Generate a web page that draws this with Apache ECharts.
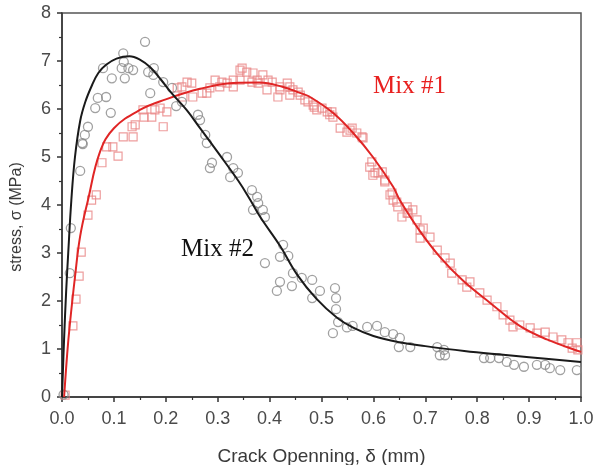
<!DOCTYPE html>
<html><head><meta charset="utf-8">
<script src="https://cdn.jsdelivr.net/npm/echarts@6/dist/echarts.min.js"></script>
<style>html,body{margin:0;padding:0;background:#fff}#c{width:597px;height:465px}</style>
</head><body><div id="c"></div>
<script>
var xTicks = [0.0,0.1,0.2,0.3,0.4,0.5,0.6,0.7,0.8,0.9,1.0];
var yTicks = [0,1,2,3,4,5,6,7,8];

var mix2Fit = [[0,0],[0.004,1.2],[0.008,2.2],[0.012,3.0],[0.018,4.1],[0.025,5.0],[0.035,5.75],[0.045,6.15],[0.058,6.5],[0.07,6.75],[0.085,6.92],[0.105,7.05],[0.13,7.1],[0.15,7.03],[0.17,6.87],[0.19,6.62],[0.212,6.32],[0.24,5.98],[0.266,5.6],[0.3,5.1],[0.34,4.5],[0.362,4.12],[0.382,3.75],[0.42,3.15],[0.453,2.55],[0.49,2.05],[0.53,1.65],[0.56,1.45],[0.6,1.27],[0.65,1.14],[0.7,1.06],[0.775,0.96],[0.85,0.88],[0.9,0.83],[1.0,0.73]];

var mix1Fit = [[0.004,0],[0.01,0.9],[0.015,1.5],[0.025,2.5],[0.035,3.35],[0.05,4.1],[0.073,5.1],[0.1,5.6],[0.15,5.98],[0.2,6.2],[0.266,6.42],[0.33,6.54],[0.38,6.55],[0.426,6.46],[0.46,6.33],[0.478,6.25],[0.522,5.92],[0.561,5.5],[0.599,5.0],[0.638,4.38],[0.651,4.1],[0.69,3.45],[0.728,2.92],[0.773,2.42],[0.825,1.96],[0.882,1.48],[0.934,1.2],[1.0,0.94]];

var mix2Pts = [[0.003,0.05],[0.015,2.58],[0.017,3.52],[0.035,4.71],[0.039,5.29],[0.04,5.27],[0.044,5.46],[0.05,5.63],[0.064,6.02],[0.069,6.23],[0.085,6.25],[0.079,6.85],[0.096,6.64],[0.094,5.92],[0.118,7.16],[0.119,6.98],[0.121,6.64],[0.115,6.85],[0.128,6.85],[0.137,6.81],[0.16,7.40],[0.177,6.85],[0.166,6.77],[0.176,6.71],[0.17,6.33],[0.195,6.56],[0.212,6.44],[0.22,6.06],[0.231,6.15],[0.262,5.88],[0.266,5.77],[0.276,5.46],[0.279,5.29],[0.289,4.88],[0.285,4.77],[0.318,5.0],[0.324,4.58],[0.33,4.77],[0.339,4.67],[0.366,4.31],[0.376,4.17],[0.378,4.04],[0.368,3.9],[0.387,3.9],[0.391,3.75],[0.391,2.79],[0.426,3.17],[0.436,2.94],[0.42,2.92],[0.445,2.58],[0.42,2.40],[0.414,2.21],[0.443,2.31],[0.462,2.48],[0.482,2.44],[0.497,2.21],[0.482,2.06],[0.526,2.27],[0.528,2.06],[0.528,1.83],[0.532,1.56],[0.549,1.45],[0.56,1.48],[0.522,1.33],[0.588,1.46],[0.607,1.48],[0.622,1.35],[0.638,1.31],[0.651,1.23],[0.649,1.04],[0.671,1.04],[0.723,1.04],[0.736,0.98],[0.728,0.87],[0.738,0.87],[0.813,0.81],[0.825,0.81],[0.842,0.81],[0.857,0.73],[0.871,0.67],[0.89,0.63],[0.915,0.67],[0.931,0.67],[0.94,0.60],[0.96,0.56],[0.992,0.56]];

var mix1Pts = [[0.006,0.04],[0.021,1.48],[0.027,2.04],[0.033,2.52],[0.037,3.02],[0.05,3.79],[0.057,4.1],[0.066,4.21],[0.077,4.88],[0.086,5.21],[0.098,5.21],[0.108,5.02],[0.118,5.42],[0.137,5.42],[0.135,5.63],[0.141,5.67],[0.156,5.98],[0.158,5.83],[0.173,5.83],[0.179,5.98],[0.195,5.63],[0.189,6.02],[0.202,5.94],[0.222,6.44],[0.231,6.46],[0.241,6.56],[0.25,6.54],[0.233,6.25],[0.252,6.25],[0.27,6.33],[0.279,6.33],[0.285,6.44],[0.295,6.6],[0.304,6.46],[0.308,6.56],[0.318,6.54],[0.33,6.6],[0.33,6.46],[0.343,6.81],[0.347,6.85],[0.356,6.77],[0.368,6.75],[0.387,6.71],[0.343,6.6],[0.366,6.56],[0.376,6.6],[0.378,6.54],[0.395,6.4],[0.397,6.6],[0.405,6.56],[0.42,6.4],[0.416,6.25],[0.42,6.46],[0.434,6.54],[0.439,6.46],[0.445,6.4],[0.439,6.29],[0.455,6.35],[0.459,6.29],[0.468,6.19],[0.474,6.15],[0.484,6.08],[0.486,6.04],[0.491,5.98],[0.501,6.02],[0.511,5.94],[0.516,5.88],[0.522,5.83],[0.52,5.94],[0.536,5.6],[0.549,5.52],[0.555,5.56],[0.559,5.6],[0.568,5.5],[0.578,5.42],[0.58,5.4],[0.597,4.9],[0.593,4.79],[0.599,4.62],[0.603,4.67],[0.609,4.67],[0.617,4.69],[0.622,4.52],[0.622,4.48],[0.632,4.21],[0.636,4.25],[0.638,4.1],[0.645,4.06],[0.647,3.96],[0.655,3.75],[0.665,3.96],[0.665,3.83],[0.667,3.83],[0.676,3.9],[0.684,3.69],[0.69,3.48],[0.696,3.52],[0.69,3.31],[0.709,3.33],[0.723,3.06],[0.738,2.9],[0.748,2.79],[0.751,2.58],[0.771,2.44],[0.786,2.4],[0.78,2.29],[0.805,2.17],[0.819,2.02],[0.838,1.88],[0.85,1.71],[0.863,1.6],[0.869,1.46],[0.882,1.5],[0.902,1.44],[0.915,1.33],[0.931,1.35],[0.946,1.25],[0.963,1.19],[0.975,1.13],[0.983,1.02],[0.994,0.98],[0.992,1.13]];

var chart = echarts.init(document.getElementById('c'), null, {renderer:'canvas'});
var axisFont = {fontFamily:'Liberation Sans, Arial, sans-serif', fontSize:18, color:'#4a4a4a'};
chart.setOption({
  animation:false,
  backgroundColor:'#fff',
  grid:{left:62,right:16,top:13,bottom:68,containLabel:false,outerBoundsMode:'none',show:true,borderColor:'#555',borderWidth:1.5,backgroundColor:'transparent'},
  xAxis:{type:'value',min:0,max:1.0,interval:0.1,
    name:'Crack Openning, δ (mm)',nameLocation:'middle',nameGap:50,
    nameTextStyle:{fontFamily:'Liberation Sans, Arial, sans-serif',fontSize:19,color:'#3a3a3a'},
    axisLine:{show:true,onZero:false,lineStyle:{color:'#333',width:1.5}},
    axisTick:{show:true,inside:false,length:5,lineStyle:{color:'#333',width:1.5}},
    minorTick:{show:true,splitNumber:2,length:3,lineStyle:{color:'#333',width:1.2}},
    splitLine:{show:false},
    axisLabel:Object.assign({margin:13,formatter:function(v){return v.toFixed(1);}},axisFont)
  },
  yAxis:{type:'value',min:0,max:8,interval:1,
    name:'stress, σ (MPa)',nameLocation:'middle',nameGap:37,
    nameTextStyle:{fontFamily:'Liberation Sans, Arial, sans-serif',fontSize:16,color:'#3a3a3a',padding:[0,24,0,0]},
    axisLine:{show:true,onZero:false,lineStyle:{color:'#333',width:1.5}},
    axisTick:{show:true,inside:false,length:5,lineStyle:{color:'#333',width:1.5}},
    minorTick:{show:true,splitNumber:2,length:3,lineStyle:{color:'#333',width:1.2}},
    splitLine:{show:false},
    axisLabel:Object.assign({margin:11},axisFont)
  },
  series:[
    {type:'scatter',data:mix1Pts,symbol:'rect',symbolSize:8,
      itemStyle:{color:'rgba(255,255,255,0)',borderColor:'#e88585',borderWidth:1.2}},
    {type:'scatter',data:mix2Pts,symbol:'circle',symbolSize:9,
      itemStyle:{color:'rgba(255,255,255,0)',borderColor:'#8a8a8a',borderWidth:1.3}},
    {type:'line',data:mix1Fit,smooth:0.4,showSymbol:false,lineStyle:{color:'#e02525',width:2}},
    {type:'line',data:mix2Fit,smooth:0.4,showSymbol:false,lineStyle:{color:'#1a1a1a',width:2}}
  ],
  graphic:[
    {type:'text',left:373,top:74,style:{text:'Mix #1',fill:'#e8201f',font:'25px "Liberation Serif", "Times New Roman", serif'}},
    {type:'text',left:181,top:237,style:{text:'Mix #2',fill:'#111',font:'25px "Liberation Serif", "Times New Roman", serif'}}
  ]
});
</script></body></html>
